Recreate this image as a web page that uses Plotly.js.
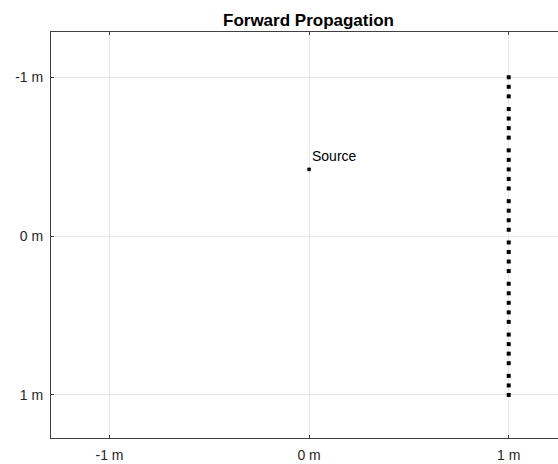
<!DOCTYPE html>
<html>
<head>
<meta charset="utf-8">
<script src="https://cdn.plot.ly/plotly-3.0.1.min.js"></script>
<style>
html, body { margin: 0; padding: 0; overflow: hidden; background: #fff; }
#chart { width: 566px; height: 464px; }
</style>
</head>
<body>
<div id="chart"></div>
<script>
// Data
const sourceX = [0];
const sourceY = [-0.42];
const sourceLabel = "Source";
const receiverX = [1,1,1,1,1,1,1,1,1,1,1,1,1,1,1,1,1,1,1,1,1,1,1,1,1,1,1,1,1,1,1,1];
const receiverY = [-1.0, -0.94, -0.88, -0.80, -0.74, -0.68, -0.62, -0.54, -0.48, -0.42, -0.36, -0.30,
                   -0.22, -0.16, -0.10, -0.04, 0.04, 0.10, 0.16, 0.22, 0.30, 0.36, 0.42, 0.48, 0.54,
                   0.62, 0.68, 0.74, 0.80, 0.88, 0.94, 1.0];
const tickVals = [-1, 0, 1];
const tickText = ["-1 m", "0 m", "1 m"];
const chartTitle = "Forward Propagation";

const traces = [
  {
    x: receiverX, y: receiverY, type: 'scatter', mode: 'markers',
    marker: { symbol: 'square', size: 4, color: '#000' },
    hoverinfo: 'skip', cliponaxis: false
  },
  {
    x: sourceX, y: sourceY, type: 'scatter', mode: 'markers',
    marker: { symbol: 'square', size: 3.5, color: '#000' },
    hoverinfo: 'skip'
  }
];

const axisCommon = {
  tickvals: tickVals, ticktext: tickText,
  showgrid: true, gridcolor: '#e6e6e6', gridwidth: 1,
  zeroline: false, showline: true, linecolor: '#404040', linewidth: 1,
  ticks: 'inside', ticklen: 3, tickcolor: '#404040', tickwidth: 1,
  tickfont: { family: 'Liberation Sans, Arial, sans-serif', size: 14, color: '#262626' }
};

const layout = {
  width: 566, height: 464,
  margin: { l: 51, r: 0, t: 32, b: 26 },
  paper_bgcolor: '#fff', plot_bgcolor: '#fff',
  showlegend: false,
  title: {
    text: '<b>' + chartTitle + '</b>',
    font: { family: 'Liberation Sans, Arial, sans-serif', size: 17, color: '#000' },
    x: 0.5, xref: 'paper', y: 1, yref: 'paper', yanchor: 'bottom', pad: { b: 6 }
  },
  xaxis: Object.assign({}, axisCommon, {
    range: [-1.293, 1.287], mirror: 'ticks', ticklabelstandoff: 4
  }),
  yaxis: Object.assign({}, axisCommon, {
    range: [1.271, -1.285], mirror: false, ticklabelstandoff: 4
  }),
  annotations: [{
    x: sourceX[0], y: sourceY[0], xref: 'x', yref: 'y', text: sourceLabel,
    showarrow: false, xanchor: 'left', yanchor: 'bottom', xshift: 1, yshift: 3,
    font: { family: 'Liberation Sans, Arial, sans-serif', size: 14, color: '#000' }
  }]
};

Plotly.newPlot('chart', traces, layout, { staticPlot: true, displayModeBar: false });
</script>
</body>
</html>
